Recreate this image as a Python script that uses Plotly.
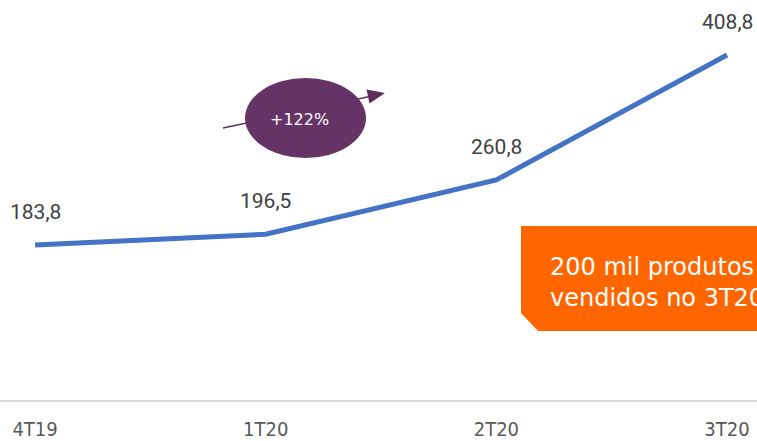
import plotly.graph_objects as go

# ---- data ----
categories = ["4T19", "1T20", "2T20", "3T20"]
values = [183.8, 196.5, 260.8, 408.8]
value_labels = ["183,8", "196,5", "260,8", "408,8"]
growth_label = "+122%"
box_text = "200 mil produtos<br>vendidos no 3T20"

W, H = 757, 441
ML, MR, MT, MB = 0, 0, 0, 41
PW, PH = W - ML - MR, H - MT - MB

def px(x):
    return (x - ML) / PW

def py(y):
    return (MT + PH - y) / PH

xs = list(range(len(categories)))

fig = go.Figure()
fig.add_trace(go.Scatter(
    x=xs, y=values, mode="lines",
    line=dict(color="#4472C4", width=5),
    hoverinfo="skip", showlegend=False,
))

annotations = []
for i, (v, lab) in enumerate(zip(values, value_labels)):
    annotations.append(dict(
        x=i, y=v, xref="x", yref="y", text=lab, showarrow=False,
        xanchor="center", yanchor="middle",
        yshift=33, font=dict(family="Roboto, Arial, sans-serif", size=21, color="#404040"),
    ))

# ellipse text
annotations.append(dict(
    x=px(299), y=py(119), xref="paper", yref="paper", text=growth_label,
    xanchor="center", yanchor="middle",
    showarrow=False, font=dict(family="DejaVu Sans, sans-serif", size=16, color="white"),
))
# orange box text
annotations.append(dict(
    x=px(548), y=py(282), xref="paper", yref="paper", text=box_text,
    showarrow=False, xanchor="left", yanchor="middle", align="left",
    font=dict(family="DejaVu Sans, sans-serif", size=24, color="white"),
))

shapes = []
# arrow line (behind ellipse)
shapes.append(dict(type="line", xref="paper", yref="paper",
                   x0=px(223), y0=py(128), x1=px(372), y1=py(96),
                   line=dict(color="#5E2D5C", width=1.5), layer="above"))
# ellipse
shapes.append(dict(type="circle", xref="paper", yref="paper",
                   x0=px(245), y0=py(158), x1=px(366), y1=py(78),
                   fillcolor="#663366", line=dict(width=0), layer="above"))
# arrowhead
def P(x, y):
    return f"{px(x)},{py(y)}"
shapes.append(dict(type="path", xref="paper", yref="paper",
                   path=f"M{P(385,93)} L{P(369.5,103.5)} L{P(366.5,89.5)} Z",
                   fillcolor="#5E2D5C", line=dict(width=0), layer="above"))
# orange box with chamfered bottom-left corner
shapes.append(dict(type="path", xref="paper", yref="paper",
                   path=f"M{P(521,226)} L{P(770,226)} L{P(770,331)} L{P(538,331)} L{P(521,313)} Z",
                   fillcolor="#FF6600", line=dict(width=0), layer="above"))

fig.update_layout(
    width=W, height=H,
    margin=dict(l=ML, r=MR, t=MT, b=MB, autoexpand=False),
    paper_bgcolor="white", plot_bgcolor="white",
    showlegend=False,
    xaxis=dict(
        range=[-0.152, 3.13], tickvals=xs, ticktext=categories,
        showgrid=False, zeroline=False, automargin=False,
        showline=True, linecolor="#D9D9D9", linewidth=2,
        ticks="outside", ticklen=10, tickcolor="rgba(0,0,0,0)",
        tickfont=dict(family="Liberation Sans Narrow, DejaVu Sans Condensed, sans-serif", size=20, color="#595959"),
        fixedrange=True,
    ),
    yaxis=dict(range=[0, 474], visible=False, fixedrange=True, automargin=False),
    annotations=annotations,
    shapes=shapes,
)

fig.write_html("out.html", config={"displayModeBar": False},
               post_script="document.body.style.margin='0';document.body.style.overflow='hidden';")
